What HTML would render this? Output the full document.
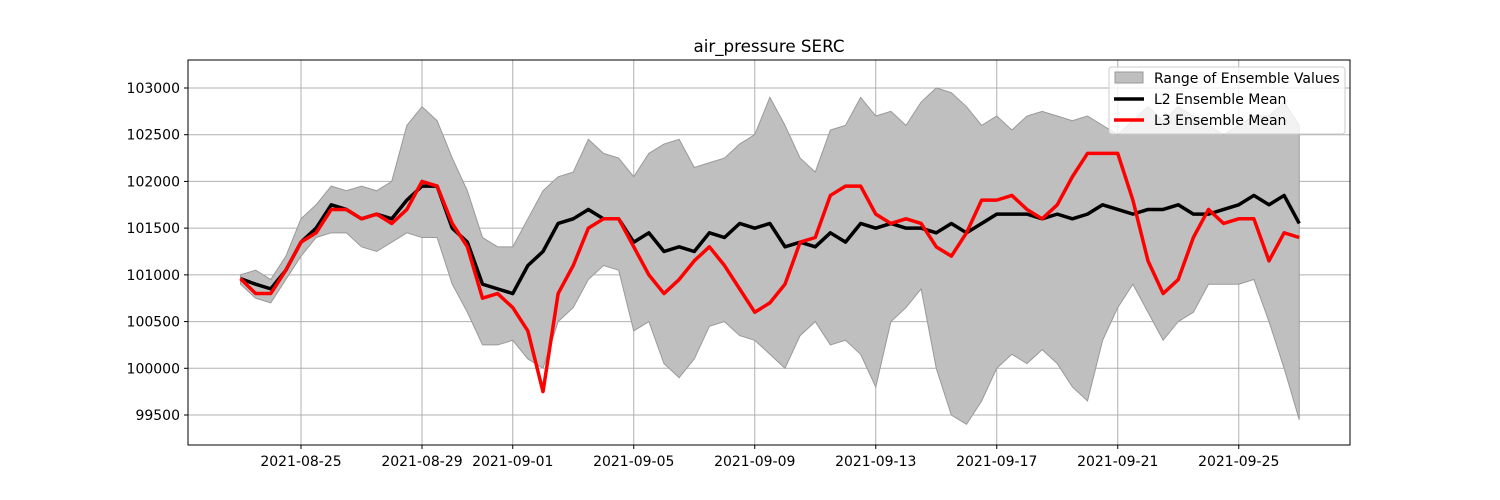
<!DOCTYPE html>
<html><head><meta charset="utf-8"><style>
body{margin:0;background:#fff;}
svg{display:block;font-family:"DejaVu Sans","Liberation Sans",sans-serif;}
</style></head><body>
<svg id="chart" width="1500" height="500">
<rect width="1500" height="500" fill="#fff"/>
<text x="769" y="52" font-size="16.7" text-anchor="middle">air_pressure SERC</text>
<g id="grid"></g>
<g id="band"></g>
<g id="lines"></g>
<rect x="188" y="60" width="1162" height="385" fill="none" stroke="#000" stroke-width="1"/>
<g id="ticks"></g>
<g>
<rect x="1109" y="67" width="236" height="67" rx="3" fill="#fff" fill-opacity="0.8" stroke="#ccc"/>
<rect x="1115" y="72" width="28" height="11" fill="#bfbfbf" stroke="#999"/>
<text x="1154" y="83" font-size="14">Range of Ensemble Values</text>
<line x1="1114" y1="99" x2="1144" y2="99" stroke="#000" stroke-width="3.5"/>
<text x="1154" y="104" font-size="14">L2 Ensemble Mean</text>
<line x1="1114" y1="120" x2="1144" y2="120" stroke="#f00" stroke-width="3.5"/>
<text x="1154" y="125" font-size="14">L3 Ensemble Mean</text>
</g>
</svg>
<script>
const startDay = -2; const stepDay = 0.5;
const l2Mean = [100960,100900,100850,101050,101350,101500,101750,101700,101600,101650,101600,101800,101950,101950,101500,101350,100900,100850,100800,101100,101250,101550,101600,101700,101600,101600,101350,101450,101250,101300,101250,101450,101400,101550,101500,101550,101300,101350,101300,101450,101350,101550,101500,101550,101500,101500,101450,101550,101450,101550,101650,101650,101650,101600,101650,101600,101650,101750,101700,101650,101700,101700,101750,101650,101650,101700,101750,101850,101750,101850,101550];
const l3Mean = [100960,100800,100800,101050,101350,101450,101700,101700,101600,101650,101550,101700,102000,101950,101550,101300,100750,100800,100650,100400,99750,100800,101100,101500,101600,101600,101300,101000,100800,100950,101150,101300,101100,100850,100600,100700,100900,101350,101400,101850,101950,101950,101650,101550,101600,101550,101300,101200,101450,101800,101800,101850,101700,101600,101750,102050,102300,102300,102300,101800,101150,100800,100950,101400,101700,101550,101600,101600,101150,101450,101400];
const rangeUpper = [101000,101050,100950,101200,101600,101750,101950,101900,101950,101900,102000,102600,102800,102650,102250,101900,101400,101300,101300,101600,101900,102050,102100,102450,102300,102250,102050,102300,102400,102450,102150,102200,102250,102400,102500,102900,102600,102250,102100,102550,102600,102900,102700,102750,102600,102850,103000,102950,102800,102600,102700,102550,102700,102750,102700,102650,102700,102600,102500,102650,102800,102650,102800,102700,102600,102500,102600,102700,102700,102850,102600];
const rangeLower = [100900,100750,100700,100950,101200,101400,101450,101450,101300,101250,101350,101450,101400,101400,100900,100600,100250,100250,100300,100100,100000,100500,100650,100950,101100,101050,100400,100500,100050,99900,100100,100450,100500,100350,100300,100150,100000,100350,100500,100250,100300,100150,99800,100500,100650,100850,100000,99500,99400,99650,100000,100150,100050,100200,100050,99800,99650,100300,100650,100900,100600,100300,100500,100600,100900,100900,100900,100950,100500,100000,99450];
const yTicks = [99500,100000,100500,101000,101500,102000,102500,103000];
const xTickLabels = ["2021-08-25","2021-08-29","2021-09-01","2021-09-05","2021-09-09","2021-09-13","2021-09-17","2021-09-21","2021-09-25"];
const xTickDays = [0,4,7,11,15,19,23,27,31];

const NS="http://www.w3.org/2000/svg";
const xs = d => 301 + 30.25*d;
const ys = v => 88 + (103000 - v)*0.09343;
const dayOf = i => startDay + stepDay*i;
function mk(tag, attrs, parent){const e=document.createElementNS(NS,tag);for(const k in attrs)e.setAttribute(k,attrs[k]);parent.appendChild(e);return e;}
const grid=document.getElementById('grid'), ticks=document.getElementById('ticks');
yTicks.forEach(v=>{
  const gl=mk('line',{x1:188,x2:1350,y1:ys(v),y2:ys(v),stroke:'#b0b0b0','stroke-width':1},grid);
  
  
  mk('line',{x1:184,x2:188,y1:ys(v),y2:ys(v),stroke:'#000'},ticks);
  const t=mk('text',{x:180,y:ys(v)+5,'font-size':14,'text-anchor':'end'},ticks);
  t.textContent=v;
  
  
});
xTickDays.forEach((d,i)=>{
  const gl=mk('line',{x1:xs(d),x2:xs(d),y1:60,y2:445,stroke:'#b0b0b0','stroke-width':1},grid);
  
  
  mk('line',{x1:xs(d),x2:xs(d),y1:445,y2:449,stroke:'#000'},ticks);
  const t=mk('text',{x:xs(d),y:466,'font-size':14,'text-anchor':'middle'},ticks);
  t.textContent=xTickLabels[i];
  
  
});
let up=rangeUpper.map((v,i)=>xs(dayOf(i))+','+ys(v));
let lo=rangeLower.map((v,i)=>xs(dayOf(i))+','+ys(v)).reverse();
const band=mk('polygon',{points:up.concat(lo).join(' '),fill:'#bfbfbf',stroke:'#999','stroke-width':1},document.getElementById('band'));


const lines=document.getElementById('lines');
const p2=mk('polyline',{points:l2Mean.map((v,i)=>xs(dayOf(i))+','+ys(v)).join(' '),fill:'none',stroke:'#000','stroke-width':3.5,'stroke-linejoin':'round'},lines);


const p3=mk('polyline',{points:l3Mean.map((v,i)=>xs(dayOf(i))+','+ys(v)).join(' '),fill:'none',stroke:'#f00','stroke-width':3.5,'stroke-linejoin':'round'},lines);


</script>
</body></html>
